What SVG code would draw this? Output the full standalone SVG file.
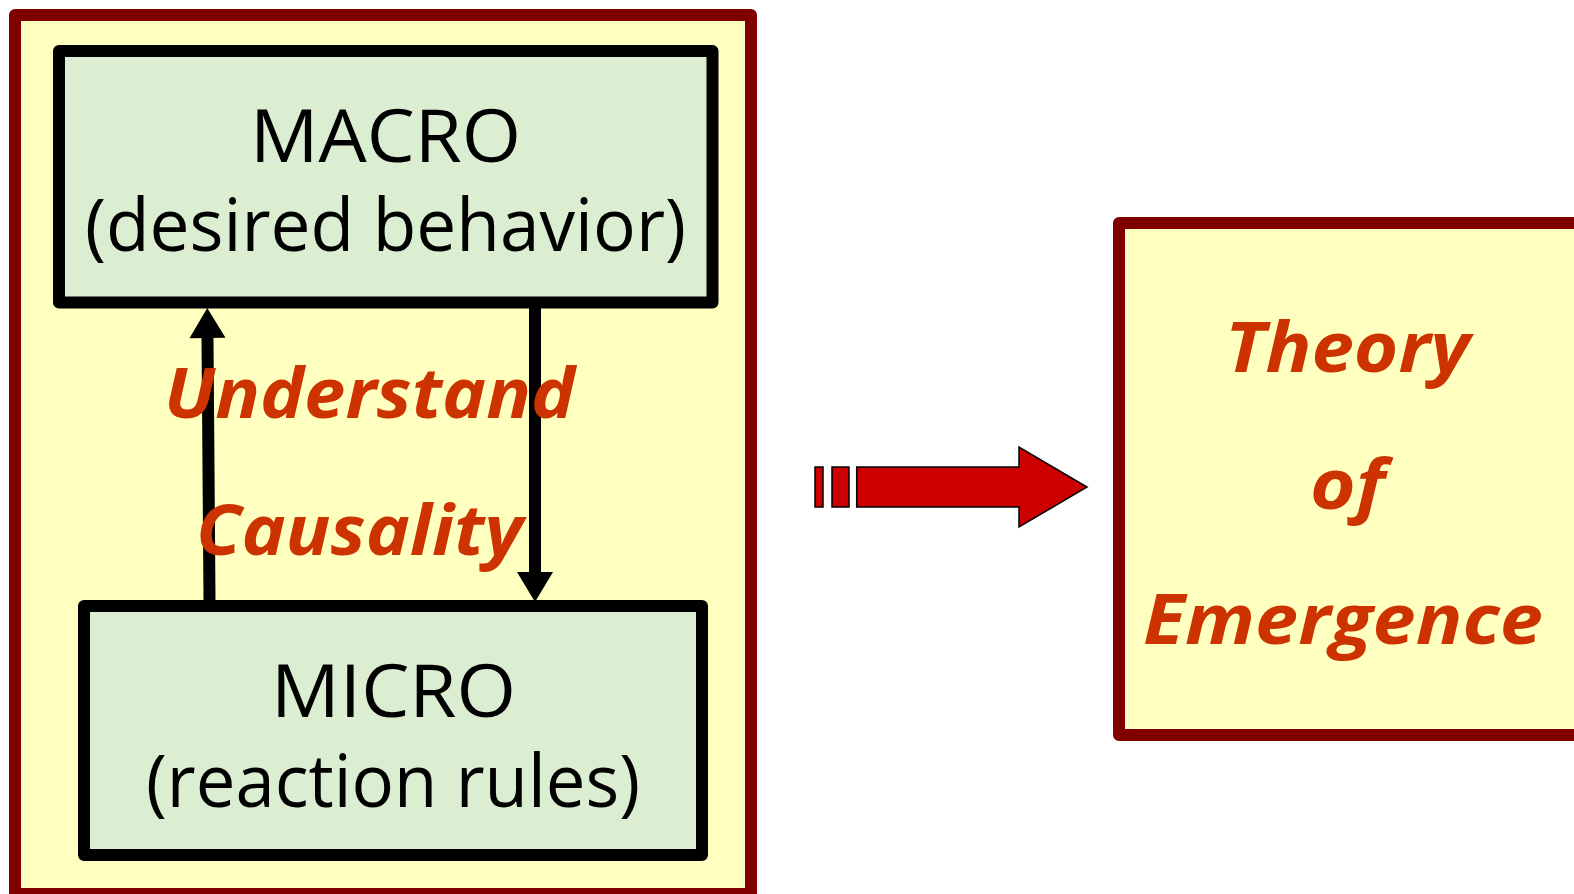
<svg xmlns="http://www.w3.org/2000/svg" width="1574" height="894" viewBox="0 0 1574 894">
<defs>
<style>
.frame{fill:#FFFFC0;stroke:#800000;stroke-width:12;stroke-linejoin:round}
.node{fill:#DCEED2;stroke:#000;stroke-width:12;stroke-linejoin:round}
.lbl{font-family:"Open Sans","Liberation Sans",sans-serif;font-size:73px;fill:#000;text-anchor:middle}
.emph{font-family:"Open Sans","Liberation Sans",sans-serif;font-size:70px;font-weight:bold;font-style:italic;fill:#CC3300;text-anchor:middle}
.conn{stroke:#000;stroke-width:12;fill:none}
.big{fill:#CC0000;stroke:#000;stroke-width:1.5;stroke-linejoin:miter}
</style>
<marker id="head" markerUnits="userSpaceOnUse" markerWidth="31" markerHeight="36" refX="0" refY="18" orient="auto" overflow="visible">
<path d="M0,0 L30,18 L0,36 Z" fill="#000"/>
</marker>
</defs>
<rect width="1574" height="894" fill="#fff"/>
<g id="frame-left">
<rect class="frame" x="15" y="15" width="736" height="879"/>
</g>
<g id="node-macro">
<rect class="node" x="59" y="51" width="653.5" height="251.5"/>
<text class="lbl" x="385.5" y="162" textLength="271" lengthAdjust="spacingAndGlyphs">MACRO</text>
<text class="lbl" x="385.5" y="251" textLength="601" lengthAdjust="spacingAndGlyphs">(desired behavior)</text>
</g>
<g id="node-micro">
<rect class="node" x="84" y="606" width="618" height="249"/>
<text class="lbl" x="393.5" y="717" textLength="245" lengthAdjust="spacingAndGlyphs">MICRO</text>
<text class="lbl" x="393" y="807" textLength="494" lengthAdjust="spacingAndGlyphs">(reaction rules)</text>
</g>
<g id="connectors">
<line class="conn" x1="209.5" y1="600" x2="207.5" y2="338" marker-end="url(#head)"/>
<line class="conn" x1="535" y1="308" x2="535" y2="572" marker-end="url(#head)"/>
</g>
<g id="label-causality">
<text class="emph" x="369.5" y="418" textLength="411" lengthAdjust="spacingAndGlyphs">Understand</text>
<text class="emph" x="359.5" y="555" textLength="327" lengthAdjust="spacingAndGlyphs">Causality</text>
</g>
<g id="big-arrow">
<rect class="big" x="815" y="467" width="8" height="40"/>
<rect class="big" x="832" y="467" width="17" height="40"/>
<path class="big" d="M856.7,467 L1019,467 L1019,447 L1087,487 L1019,527 L1019,507 L856.7,507 Z"/>
</g>
<g id="node-theory">
<rect class="frame" x="1119" y="223" width="500" height="512"/>
<text class="emph" x="1347.5" y="372" textLength="245" lengthAdjust="spacingAndGlyphs">Theory</text>
<text class="emph" x="1347.5" y="509" textLength="75" lengthAdjust="spacingAndGlyphs">of</text>
<text class="emph" x="1343" y="644" textLength="400" lengthAdjust="spacingAndGlyphs">Emergence</text>
</g>
</svg>
